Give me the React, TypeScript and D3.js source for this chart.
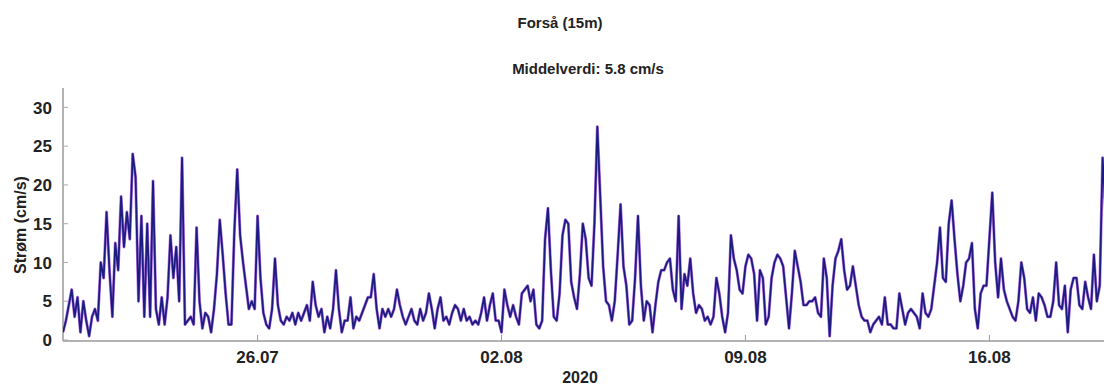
import React, { useEffect, useRef } from 'react';
import * as d3 from 'd3';

// Strøm (cm/s), one value every 2 hours from 20.07.2020 10:00
const startTime = new Date(2020, 6, 20, 10, 0);
const stepHours = 2;
const speed = [
  1, 2.5, 4.5, 6.5, 3, 5.5, 1, 5, 2.5, 0.5, 3, 4, 2.5, 10, 8, 16.5, 9, 3, 12.5, 9,
  18.5, 12, 16.5, 13, 24, 21, 5, 16, 3, 15, 3, 20.5, 4, 2, 5.5, 2, 5.5, 13.5, 8, 12,
  5, 23.5, 2, 2.5, 3, 2, 14.5, 5, 1.5, 3.5, 3, 1, 4, 8.5, 15.5, 11, 6, 2, 2, 14,
  22, 13.5, 10, 7, 4, 5, 4, 16, 8, 3.5, 2, 1.5, 4, 10.5, 4.5, 2.5, 2, 3, 2.5, 3.5,
  2, 3.5, 2.5, 3.5, 4.5, 2.5, 7.5, 4.5, 3, 4, 1, 3, 1.5, 4, 9, 4, 1, 2.5, 2.5, 5.5,
  1.5, 3, 2.5, 3.5, 4.5, 5.5, 5.5, 8.5, 4, 1.5, 4, 3, 4, 3, 4, 6.5, 4.5, 3, 2, 3,
  4, 2.5, 2, 4, 2.5, 3.5, 6, 4, 1.5, 4, 5.5, 2.5, 3, 2, 3.5, 4.5, 4, 2.5, 4, 2.5,
  3, 2, 2.5, 2, 3.5, 5.5, 2.5, 4.5, 6, 2.5, 2.5, 1, 6.5, 4.5, 3, 4.5, 3, 2, 6, 6.5,
  7, 5, 6.5, 2, 1.5, 2.5, 13, 17, 9, 3, 2.5, 6, 13.5, 15.5, 15, 7.5, 5.5, 4, 8.5, 15,
  13, 8, 7, 15, 27.5, 18.5, 9.5, 5, 4.5, 2.5, 5, 11, 17.5, 9.5, 7, 2, 2.5, 8, 16, 7,
  2.5, 5, 4.5, 1, 4.5, 7.5, 9, 9, 10, 10.5, 6.5, 5, 16, 4, 8.5, 7, 10.5, 6, 3.5, 4.5,
  4, 2.5, 3, 2, 3, 8, 6, 3, 1, 3.5, 13.5, 10.5, 9, 6.5, 6, 9.5, 11, 10.5, 8.5, 2.5,
  9, 8, 2, 3, 8, 10, 11, 10.5, 9.5, 5.5, 1.5, 6, 11.5, 9.5, 7.5, 4.5, 4.5, 5, 5, 5.5,
  3.5, 3, 10.5, 8, 0.5, 7, 10.5, 11.5, 13, 9, 6.5, 7, 9.5, 7, 4.5, 3, 2.5, 2.5, 1, 2,
  2.5, 3, 2, 5.5, 2, 2, 1.5, 1.5, 6, 4, 2, 3.5, 4, 3.5, 3, 1.5, 6, 3.5, 3, 4,
  7, 10, 14.5, 8, 7.5, 15, 18, 13, 8.5, 5, 7, 10, 10.5, 12.5, 4, 1.5, 6, 7, 7, 13,
  19, 10, 5.5, 10.5, 6.5, 5, 4, 3, 2.5, 5, 10, 8, 4, 3.5, 5.5, 2.5, 6, 5.5, 4.5, 3,
  3, 5, 10, 4.5, 4, 7, 1, 6.5, 8, 8, 4.5, 4, 7.5, 5.5, 4, 11, 5, 7, 23.5, 16.5,
];

const yTicks = [0, 5, 10, 15, 20, 25, 30];
const xTickDates = [
  new Date(2020, 6, 26),
  new Date(2020, 7, 2),
  new Date(2020, 7, 9),
  new Date(2020, 7, 16),
];
const xTickLabels = ['26.07', '02.08', '09.08', '16.08'];

const App = () => {
  const svgRef = useRef<SVGSVGElement | null>(null);

  useEffect(() => {
    if (!svgRef.current) return;
    d3.select(svgRef.current).selectAll('*').remove();

    const width = 1104;
    const height = 388;
    const left = 63;
    const right = 1104;
    const top = 88;
    const bottom = 340;
    const font = 'Liberation Sans, Arial, sans-serif';

    const svg = d3.select(svgRef.current)
      .attr('width', width)
      .attr('height', height);

    const x = d3.scaleTime()
      .domain([startTime, new Date(2020, 7, 19, 10, 0)])
      .range([left, left + 720 * 1.452]);

    const y = d3.scaleLinear()
      .domain([0, 32.5])
      .range([bottom, top]);

    svg.append('defs').append('clipPath').attr('id', 'plot')
      .append('rect')
      .attr('x', left).attr('y', top - 5)
      .attr('width', right - left).attr('height', bottom - top + 5);

    // axes
    svg.append('line')
      .attr('x1', left).attr('x2', left)
      .attr('y1', top).attr('y2', bottom + 1)
      .attr('stroke', '#9a9a9a').attr('stroke-width', 1.5);
    svg.append('line')
      .attr('x1', left).attr('x2', right)
      .attr('y1', bottom + 1).attr('y2', bottom + 1)
      .attr('stroke', '#9a9a9a').attr('stroke-width', 1.5);

    yTicks.forEach(t => {
      svg.append('line')
        .attr('x1', left).attr('x2', left + 5)
        .attr('y1', y(t)).attr('y2', y(t))
        .attr('stroke', '#aaa').attr('stroke-width', 1);
      svg.append('text')
        .attr('x', 52).attr('y', y(t))
        .attr('dy', '0.36em')
        .attr('text-anchor', 'end')
        .attr('font-family', font)
        .attr('font-size', '17px')
        .attr('font-weight', 'bold')
        .attr('fill', '#222')
        .text(t);
    });

    xTickDates.forEach((d, i) => {
      svg.append('line')
        .attr('x1', x(d)).attr('x2', x(d))
        .attr('y1', bottom + 1).attr('y2', bottom - 5)
        .attr('stroke', '#999').attr('stroke-width', 1);
      svg.append('text')
        .attr('x', x(d)).attr('y', 363)
        .attr('text-anchor', 'middle')
        .attr('font-family', font)
        .attr('font-size', '17px')
        .attr('font-weight', 'bold')
        .attr('fill', '#222')
        .text(xTickLabels[i]);
    });

    // data
    const line = d3.line<number>()
      .x((_, i) => x(new Date(startTime.getTime() + i * stepHours * 3600000)))
      .y(d => y(d));

    const g = svg.append('g').attr('clip-path', 'url(#plot)');
    g.append('path')
      .attr('d', line(speed))
      .attr('fill', 'none')
      .attr('stroke', '#b47ae0')
      .attr('stroke-width', 3)
      .attr('stroke-linejoin', 'round');
    g.append('path')
      .attr('d', line(speed))
      .attr('fill', 'none')
      .attr('stroke', '#1c1c80')
      .attr('stroke-width', 1.8)
      .attr('stroke-linejoin', 'round');

    // titles
    svg.append('text')
      .attr('x', 560).attr('y', 28)
      .attr('text-anchor', 'middle')
      .attr('font-family', font)
      .attr('font-size', '15px')
      .attr('font-weight', 'bold')
      .attr('fill', '#222')
      .text('Forså (15m)');

    svg.append('text')
      .attr('x', 588).attr('y', 74)
      .attr('text-anchor', 'middle')
      .attr('font-family', font)
      .attr('font-size', '15px')
      .attr('font-weight', 'bold')
      .attr('fill', '#222')
      .text('Middelverdi: 5.8 cm/s');

    svg.append('text')
      .attr('transform', 'translate(20,225) rotate(-90)')
      .attr('text-anchor', 'middle')
      .attr('dominant-baseline', 'central')
      .attr('font-family', font)
      .attr('font-size', '16px')
      .attr('font-weight', 'bold')
      .attr('fill', '#222')
      .text('Strøm (cm/s)');

    svg.append('text')
      .attr('x', 580).attr('y', 383)
      .attr('text-anchor', 'middle')
      .attr('font-family', font)
      .attr('font-size', '16px')
      .attr('font-weight', 'bold')
      .attr('fill', '#222')
      .text('2020');
  }, []);

  return (
    <div style={{ position: 'absolute', left: 0, top: 0 }}>
      <svg ref={svgRef}></svg>
    </div>
  );
};

export default App;
